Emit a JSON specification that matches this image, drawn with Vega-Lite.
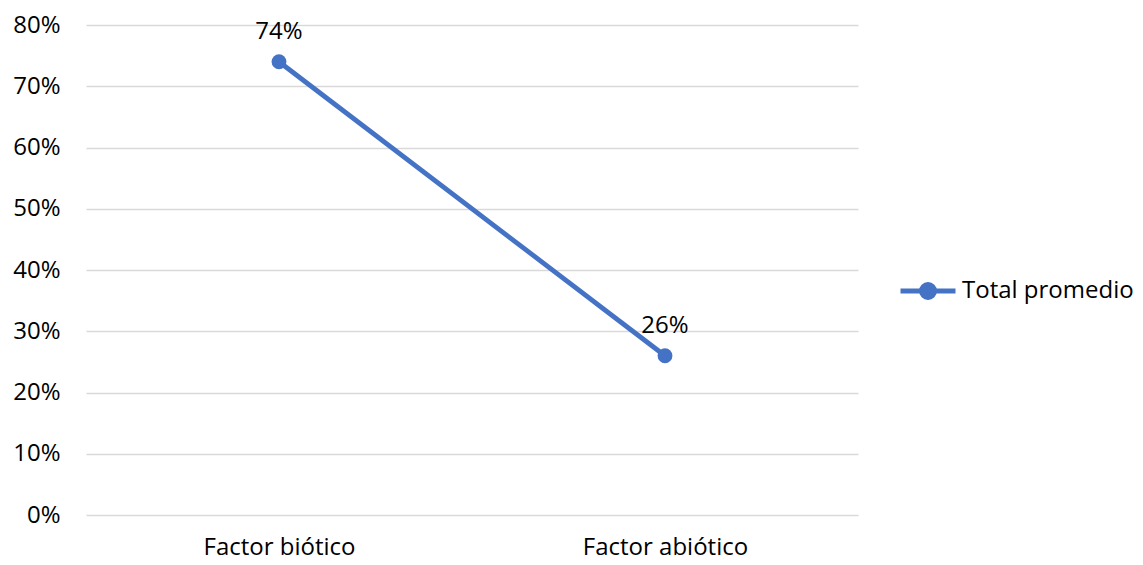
{
  "$schema": "https://vega.github.io/schema/vega-lite/v6.json",
  "autosize": "none",
  "width": 772,
  "height": 490,
  "padding": {"left": 86, "top": 25, "right": 285, "bottom": 50},
  "background": "white",
  "config": {
    "view": {"stroke": null},
    "font": "Open Sans",
    "axis": {"labelFont": "Open Sans", "labelFontSize": 24, "labelColor": "#000000"}
  },
  "data": {
    "values": [
      {"factor": "Factor biótico", "valor": 0.74, "serie": "Total promedio"},
      {"factor": "Factor abiótico", "valor": 0.26, "serie": "Total promedio"}
    ]
  },
  "encoding": {
    "x": {
      "field": "factor", "type": "nominal", "sort": null, "title": null,
      "scale": {"paddingInner": 0, "paddingOuter": 0},
      "axis": {"labelAngle": 0, "domain": false, "ticks": false, "labelPadding": 20, "grid": false}
    },
    "y": {
      "field": "valor", "type": "quantitative", "title": null,
      "scale": {"domain": [0, 0.8], "nice": false},
      "axis": {"format": ".0%", "values": [0, 0.1, 0.2, 0.3, 0.4, 0.5, 0.6, 0.7, 0.8], "labelOverlap": false, "domain": false, "ticks": false, "labelPadding": 26, "gridColor": "#d9d9d9", "gridWidth": 1.3}
    }
  },
  "layer": [
    {
      "mark": {"type": "line", "strokeWidth": 4.8, "point": {"size": 220, "filled": true, "color": "#4472C4"}},
      "encoding": {
        "color": {
          "field": "serie", "type": "nominal",
          "scale": {"range": ["#4472C4"]},
          "legend": {
            "title": null, "orient": "none", "legendX": 812, "legendY": 236,
            "symbolType": "M -1 0 L 1 0 M 0.24 0 A 0.24 0.24 0 1 1 -0.24 0 A 0.24 0.24 0 1 1 0.24 0",
            "symbolSize": 3025, "symbolStrokeWidth": 4.8, "symbolFillColor": "#4472C4", "symbolStrokeColor": "#4472C4",
            "labelFont": "Open Sans", "labelFontSize": 24, "labelColor": "#000000", "labelOffset": 4, "labelLimit": 400
          }
        }
      }
    },
    {
      "mark": {"type": "text", "dy": -30, "fontSize": 24, "font": "Open Sans", "color": "#000000"},
      "encoding": {"text": {"field": "valor", "type": "quantitative", "format": ".0%"}}
    }
  ]
}
